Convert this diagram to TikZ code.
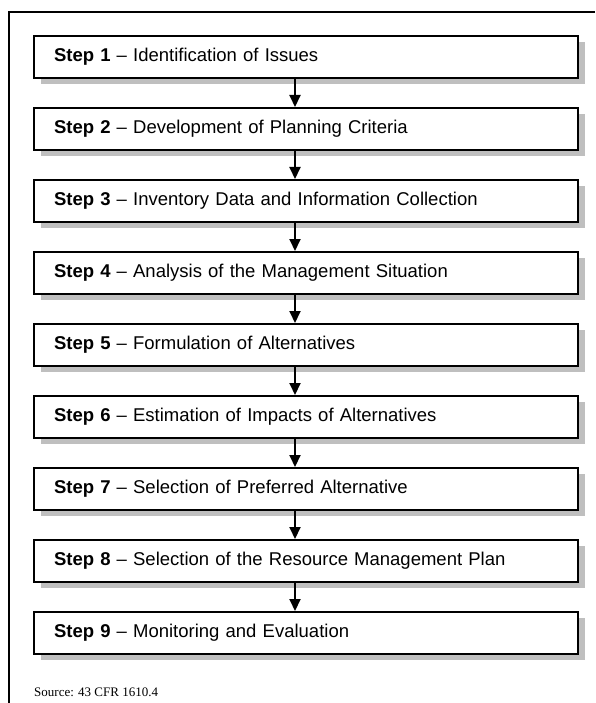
\documentclass[tikz,border=0pt]{standalone}
\usepackage{fontspec}
\setmainfont{Liberation Serif}
\setsansfont{Liberation Sans}
\usetikzlibrary{shadows,arrows.meta}

\begin{document}
\begin{tikzpicture}[x=1pt, y=-1pt, font=\sffamily]
    % Define styles
    \tikzset{
        stepbox/.style={rectangle, draw, line width=2pt, fill=white, minimum width=544pt, minimum height=42pt,
            text width=504pt, inner xsep=20pt, align=left, font=\sffamily\fontsize{18.5}{22}\selectfont,
            drop shadow={shadow xshift=7pt, shadow yshift=-6pt, fill=black!25, opacity=1}},
        arrow/.style={-{Triangle[length=12pt, width=11pt]}, line width=2pt},
    }
    \useasboundingbox (0,0) rectangle (595,703);

    % Frame
    \draw[line width=2pt] (595,12) -- (9,12) -- (9,703);

    % Steps
    \node[stepbox] (step1) at (306,57) {\textbf{Step 1} -- Identification of Issues};
    \node[stepbox] (step2) at (306,129) {\textbf{Step 2} -- Development of Planning Criteria};
    \node[stepbox] (step3) at (306,201) {\textbf{Step 3} -- Inventory Data and Information Collection};
    \node[stepbox] (step4) at (306,273) {\textbf{Step 4} -- Analysis of the Management Situation};
    \node[stepbox] (step5) at (306,345) {\textbf{Step 5} -- Formulation of Alternatives};
    \node[stepbox] (step6) at (306,417) {\textbf{Step 6} -- Estimation of Impacts of Alternatives};
    \node[stepbox] (step7) at (306,489) {\textbf{Step 7} -- Selection of Preferred Alternative};
    \node[stepbox] (step8) at (306,561) {\textbf{Step 8} -- Selection of the Resource Management Plan};
    \node[stepbox] (step9) at (306,633) {\textbf{Step 9} -- Monitoring and Evaluation};

    % Source
    \node[font=\rmfamily\fontsize{13}{15}\selectfont, anchor=west, inner sep=0pt] (source) at (34,692) {Source: 43 CFR 1610.4};

    % Arrows
    \draw[arrow] ([xshift=-11pt]step1.south) -- ([xshift=-11pt]step2.north);
    \draw[arrow] ([xshift=-11pt]step2.south) -- ([xshift=-11pt]step3.north);
    \draw[arrow] ([xshift=-11pt]step3.south) -- ([xshift=-11pt]step4.north);
    \draw[arrow] ([xshift=-11pt]step4.south) -- ([xshift=-11pt]step5.north);
    \draw[arrow] ([xshift=-11pt]step5.south) -- ([xshift=-11pt]step6.north);
    \draw[arrow] ([xshift=-11pt]step6.south) -- ([xshift=-11pt]step7.north);
    \draw[arrow] ([xshift=-11pt]step7.south) -- ([xshift=-11pt]step8.north);
    \draw[arrow] ([xshift=-11pt]step8.south) -- ([xshift=-11pt]step9.north);
\end{tikzpicture}
\end{document}
